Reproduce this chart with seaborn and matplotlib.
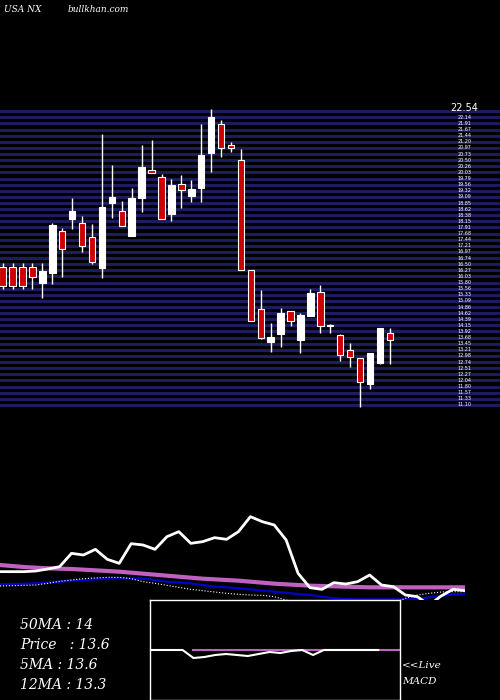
import numpy as np
import pandas as pd
import matplotlib
matplotlib.use('Agg')
import matplotlib.pyplot as plt
import seaborn as sns

# OHLC
opens = [16.41, 16.41, 16.41, 16.41, 15.77, 16.18, 17.79, 18.25, 18.07, 17.56,
         16.37, 18.87, 18.56, 17.6, 19.06, 20.11, 19.84, 18.42, 19.57, 19.14,
         19.44, 20.76, 21.88, 21.07, 20.52, 16.27, 14.80, 13.5, 13.81, 14.72,
         13.58, 14.53, 15.45, 14.13, 13.77, 13.22, 12.92, 11.89, 12.72, 13.85]
closes = [15.68, 15.68, 15.68, 16.03, 16.26, 18.0, 17.08, 18.56, 17.2, 16.58,
          18.69, 19.07, 17.97, 19.03, 20.22, 20.0, 18.24, 19.53, 19.35, 19.38,
          20.69, 22.14, 20.95, 20.95, 16.27, 14.32, 13.66, 13.72, 14.62, 14.32,
          14.54, 15.39, 14.13, 14.13, 13.0, 12.93, 11.97, 13.08, 14.04, 13.6]
highs = [16.54, 16.56, 16.56, 16.56, 16.54, 18.1, 17.88, 19.03, 18.37, 18.04,
         21.5, 20.31, 18.92, 19.42, 21.08, 21.27, 19.97, 19.78, 19.93, 19.74,
         21.89, 22.46, 22.04, 21.18, 20.92, 16.27, 15.51, 14.23, 14.84, 14.72,
         14.62, 15.55, 15.69, 14.20, 13.82, 13.48, 12.92, 13.08, 14.04, 14.04]
lows = [15.55, 15.55, 15.55, 15.55, 15.19, 15.73, 16.0, 17.84, 16.99, 16.50,
        15.96, 18.27, 17.97, 17.6, 18.52, 20.0, 18.24, 18.18, 18.68, 18.88,
        18.91, 20.03, 20.61, 20.8, 16.27, 14.32, 13.62, 13.15, 13.31, 14.14,
        13.08, 14.53, 13.85, 13.85, 12.8, 12.57, 11.03, 11.72, 12.66, 12.66]

# lower panel lines (screen-level readings, smaller = higher)
price_line = [215, 215, 215, 213, 207, 200, 160, 165, 148, 178, 190, 131, 135, 148,
              110, 95, 130, 125, 113, 118, 95, 50, 65, 75, 120, 220, 263, 268, 248,
              252, 245, 225, 255, 260, 285, 290, 315, 288, 268, 272]
ma50_line = [195, 198, 201, 203, 205, 206, 207, 209, 211, 213, 215, 218, 221, 224,
             227, 230, 233, 236, 238, 240, 242, 245, 248, 251, 253, 255, 257, 258,
             259, 260, 261, 262, 262, 262, 262, 262, 262, 262, 262, 262]
ma12_line = [253, 252, 251, 250, 248, 245, 242, 240, 238, 236, 235, 235, 236, 240,
             245, 247, 250, 255, 260, 262, 265, 268, 272, 275, 278, 282, 285, 290,
             295, 297, 298, 298, 298, 298, 298, 297, 292, 288, 283, 282]
ma5_line = [258, 257, 256, 255, 250, 244, 240, 236, 234, 232, 232, 236, 245, 250,
            256, 262, 268, 272, 276, 280, 283, 285, 286, 290, 300, 310, 315, 315,
            315, 315, 315, 315, 315, 310, 295, 285, 280, 276, 275, 275]
macd_line = [0, 0, 0, 0, 8, 7, 5, 4, 5, 6, 4, 2, 3, 1, 0, 5, 0, 0, 0, 0, 0, 0]
signal_line = [np.nan, np.nan, np.nan, np.nan, 0, 0, 0, 0, 0, 0, 0, 0, 0, 0, 0, 0,
               0, 0, 0, 0, 0, 0, 0, 0]

fig = plt.figure(figsize=(5, 7), dpi=100, facecolor='black')

# price panel
ax = fig.add_axes([0, 1 - 408 / 700, 1, 303 / 700], facecolor='black')
ax.set_xlim(-0.27, 50.1)
ax.set_ylim(10.98, 22.62)
for lvl in np.arange(11.1, 22.6, 0.235):
    ax.axhline(lvl, color='#1c1c5e', lw=2.2, zorder=1)
    if lvl < 22.2:
        ax.text(46.5, lvl, f'{lvl:.2f}', color='white', fontsize=3.5, va='center', ha='center', zorder=3)
ax.text(46.5, 22.5, '22.54', color='white', fontsize=7, va='center', ha='center', zorder=3)
idx = np.arange(len(opens))
for i in idx:
    up = closes[i] >= opens[i]
    ax.vlines(i, lows[i], highs[i], color='white', lw=1, zorder=2)
    bot = min(opens[i], closes[i])
    h = max(abs(closes[i] - opens[i]), 0.04)
    ax.bar(i, h, bottom=bot, width=0.65, color='white' if up else '#cc0000',
           edgecolor='white', lw=0.8, zorder=3)
ax.axis('off')

# moving average panel
ax2 = fig.add_axes([0, 1 - 600 / 700, 465 / 500, 100 / 700], facecolor='black')
df = pd.DataFrame({'i': np.arange(40), 'p': price_line, 'm50': ma50_line,
                   'm12': ma12_line, 'm5': ma5_line})
sns.lineplot(data=df, x='i', y='m50', color='#c060c0', lw=3, ax=ax2)
sns.lineplot(data=df, x='i', y='m12', color='#0000cc', lw=1.6, ax=ax2)
sns.lineplot(data=df, x='i', y='m5', color='white', lw=0.8, ls=':', ax=ax2)
sns.lineplot(data=df, x='i', y='p', color='white', lw=2, ax=ax2)
ax2.set_xlim(0, 39)
ax2.set_ylim(300, 0)
ax2.axis('off')

# MACD box
ax3 = fig.add_axes([150 / 500, 0, 250 / 500, 100 / 700], facecolor='black', zorder=5)
ax3.plot(np.arange(len(signal_line)), signal_line, color='#c060c0', lw=1.5)
sns.lineplot(x=np.arange(len(macd_line)), y=macd_line, color='white', lw=1.5, ax=ax3)
ax3.set_xlim(0, 23)
ax3.set_ylim(50, -50)
ax3.set_xticks([])
ax3.set_yticks([])
for s in ax3.spines.values():
    s.set_color('white')
    s.set_linewidth(1)

tf = dict(color='white', family='DejaVu Serif', style='italic', transform=fig.transFigure)
fig.text(20 / 500, 1 - 625 / 700, '50MA : 14', fontsize=10, va='center', **tf)
fig.text(20 / 500, 1 - 645 / 700, 'Price   : 13.6', fontsize=10, va='center', **tf)
fig.text(20 / 500, 1 - 665 / 700, '5MA : 13.6', fontsize=10, va='center', **tf)
fig.text(20 / 500, 1 - 685 / 700, '12MA : 13.3', fontsize=10, va='center', **tf)
fig.text(402 / 500, 1 - 666 / 700, '<<Live', fontsize=7.5, va='center', **tf)
fig.text(402 / 500, 1 - 681 / 700, 'MACD', fontsize=7.5, va='center', **tf)
fig.text(4 / 500, 1 - 10 / 700, 'USA NX', fontsize=6.5, va='center', **tf)
fig.text(68 / 500, 1 - 10 / 700, 'bullkhan.com', fontsize=6.5, va='center', **tf)

fig.savefig('out.png', dpi=100, facecolor='black')
